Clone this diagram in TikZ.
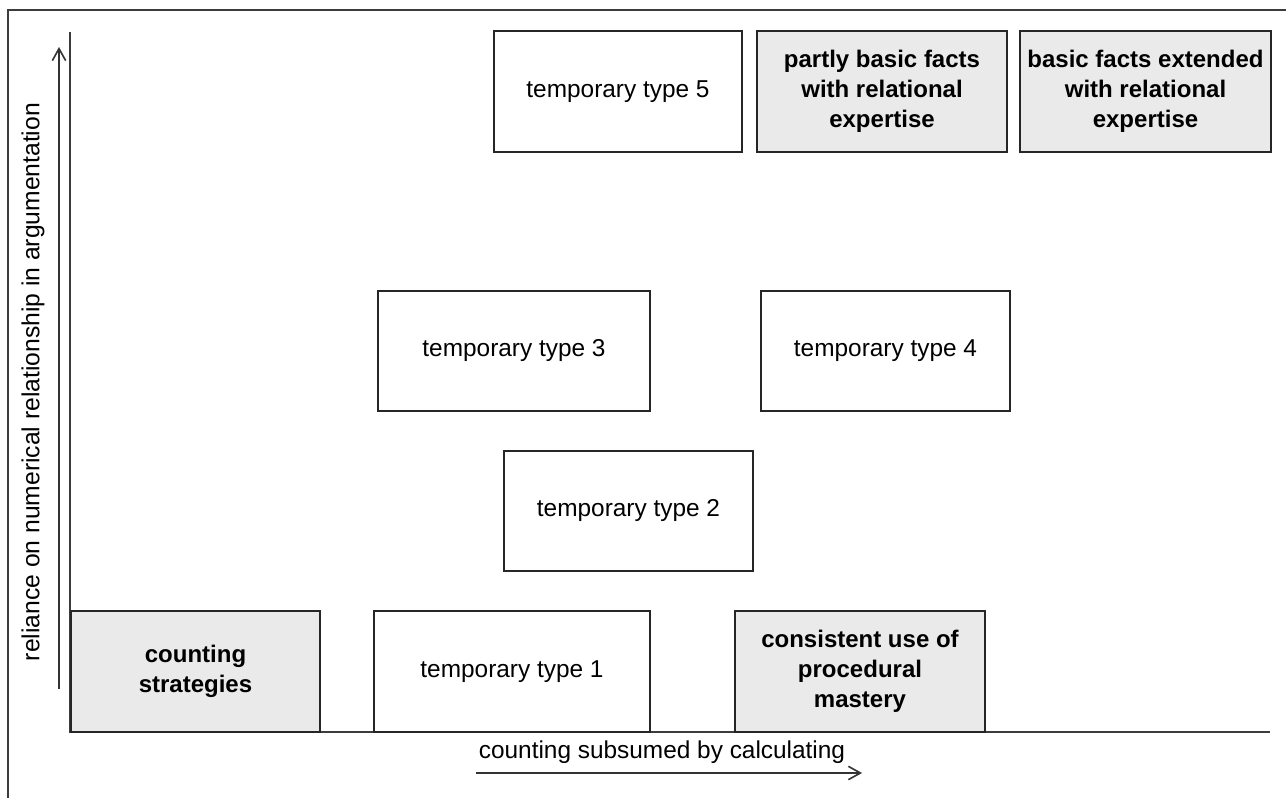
\documentclass[tikz,border=0pt]{standalone}
\usepackage{fontspec}
\setmainfont{Liberation Sans}
\usetikzlibrary{arrows.meta}
\definecolor{texgray}{RGB}{234,234,234}
\definecolor{axisgray}{RGB}{60,60,60}
\tikzset{
    typebox/.style={draw=black!85,line width=1.1pt,fill=white,align=center,
        inner sep=0pt,font=\fontsize{18.3}{22.6}\selectfont},
    stagebox/.style={typebox,fill=texgray,font=\fontsize{18}{22.6}\selectfont\bfseries},
    axis/.style={draw=axisgray,line width=1.5pt},
    dirarrow/.style={draw=black!80,line width=1.1pt,-{Straight Barb[length=9pt,width=10pt,line width=1.2pt]}}
}
\begin{document}
\begin{tikzpicture}[x=0.75pt,y=-0.75pt]
        \useasboundingbox (0,0) rectangle (1286,798);
        % frame
        \draw[axis] (8,798) -- (8,10) -- (1286,10);
        % axes
        \coordinate (ytop) at (70,32);
        \coordinate (origin) at (70,732);
        \coordinate (xend) at (1270,732);
        \draw[axis] (ytop) -- (origin) -- (xend);
        % bottom row
        \node[stagebox,minimum width=249*0.75pt,minimum height=121*0.75pt] (counting) at (195.5,671.5) {counting\\strategies};
        \node[typebox,minimum width=276*0.75pt,minimum height=121*0.75pt] (type1) at (512,671.5) {temporary type 1};
        \node[stagebox,minimum width=250*0.75pt,minimum height=121*0.75pt] (procedural) at (860,671.5) {consistent use of\\procedural\\mastery};
        % middle rows
        \node[typebox,minimum width=249*0.75pt,minimum height=120*0.75pt] (type2) at (628.5,511) {temporary type 2};
        \node[typebox,minimum width=272*0.75pt,minimum height=120*0.75pt] (type3) at (514,351) {temporary type 3};
        \node[typebox,minimum width=249*0.75pt,minimum height=120*0.75pt] (type4) at (885.5,351) {temporary type 4};
        % top row
        \node[typebox,minimum width=248*0.75pt,minimum height=121*0.75pt] (type5) at (618,91.5) {temporary type 5};
        \node[stagebox,minimum width=250*0.75pt,minimum height=121*0.75pt] (partly) at (882,91.5) {partly basic facts\\with relational\\expertise};
        \node[stagebox,minimum width=251*0.75pt,minimum height=121*0.75pt] (extended) at (1145.5,91.5) {basic facts extended\\with relational\\expertise};
        % direction arrows
        \coordinate (ylow) at (59,689);
        \coordinate (yhigh) at (59,47);
        \draw[dirarrow] (ylow) -- (yhigh);
        \node[rotate=90,font=\fontsize{18.5}{22.6}\selectfont] (ylabel) at (33,382) {reliance on numerical relationship in argumentation};
        \coordinate (xlow) at (476,773);
        \coordinate (xhigh) at (862,773);
        \draw[dirarrow] (xlow) -- (xhigh);
        \node[font=\fontsize{18.3}{22.6}\selectfont] (xlabel) at (662,752) {counting subsumed by calculating};
    \end{tikzpicture}
\end{document}
